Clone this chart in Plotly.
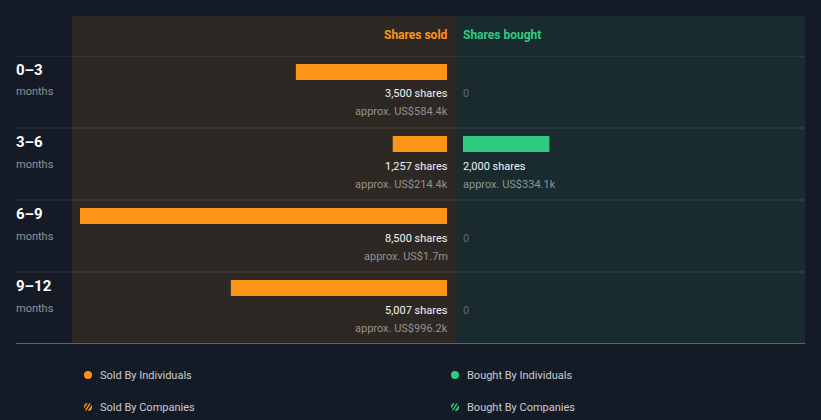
import plotly.graph_objects as go

# ---------------- data ----------------
periods = ["0–3", "3–6", "6–9", "9–12"]
period_unit = ["months", "months", "months", "months"]
sold_shares = [3500, 1257, 8500, 5007]
sold_value = ["US$584.4k", "US$214.4k", "US$1.7m", "US$996.2k"]
bought_shares = [0, 2000, 0, 0]
bought_value = ["", "US$334.1k", "", ""]
legend_labels = ["Sold By Individuals", "Bought By Individuals",
                 "Sold By Companies", "Bought By Companies"]

# ---------------- style ----------------
W, H = 821, 420
BG = "#151b26"
SOLD_BG = "#2d2823"
BOUGHT_BG = "#1a2b2f"
ORANGE = "#fd9418"
GREEN = "#2ecb80"
FONT = "Roboto"
RS = 3    # x shift for right-anchored text
LS = -2   # x shift for left-anchored text


def px(x):
    return x / W


def py(y):
    return 1 - y / H


rows = list(range(len(periods)))
smax = max(sold_shares + bought_shares)
sold_l, sold_r = 80, 447
buy_l, buy_r = 463, 805
scale = (sold_r - sold_l) / smax  # px per share

fig = go.Figure()
fig.add_trace(go.Bar(
    y=rows, x=sold_shares, orientation="h", xaxis="x", yaxis="y",
    marker=dict(color=ORANGE, line=dict(width=0)),
    width=16 / 72, offset=-0.5 + 8 / 72,
    showlegend=False, hoverinfo="skip"))
fig.add_trace(go.Bar(
    y=rows, x=bought_shares, orientation="h", xaxis="x2", yaxis="y",
    marker=dict(color=GREEN, line=dict(width=0)),
    width=16 / 72, offset=-0.5 + 8 / 72,
    showlegend=False, hoverinfo="skip"))

shapes = [
    dict(type="rect", xref="paper", yref="paper", x0=px(72), x1=px(455),
         y0=py(343), y1=py(16), fillcolor=SOLD_BG, line_width=0, layer="below"),
    dict(type="rect", xref="paper", yref="paper", x0=px(455), x1=px(805),
         y0=py(343), y1=py(16), fillcolor=BOUGHT_BG, line_width=0, layer="below"),
]
for i in rows:
    shapes.append(dict(type="line", xref="paper", yref="y", x0=px(16), x1=px(805),
                       y0=i - 0.5, y1=i - 0.5,
                       line=dict(color="rgba(255,255,255,0.13)", width=1), layer="below"))
shapes.append(dict(type="line", xref="paper", yref="y", x0=px(16), x1=px(805),
                   y0=len(rows) - 0.5, y1=len(rows) - 0.5,
                   line=dict(color="#a9adb1", width=1)))

annotations = [
    dict(text="<b>Shares sold</b>", xref="x", yref="paper", x=0, y=py(35), xshift=RS,
         xanchor="right", yanchor="middle", showarrow=False,
         font=dict(family=FONT, size=12, color=ORANGE)),
    dict(text="<b>Shares bought</b>", xref="x2", yref="paper", x=0, y=py(35), xshift=LS,
         xanchor="left", yanchor="middle", showarrow=False,
         font=dict(family=FONT, size=12, color=GREEN)),
]
for i in rows:
    annotations.append(dict(text="<b>%s</b>" % periods[i], xref="paper", yref="y",
                            x=px(16), y=i - 0.5 + 14 / 72, xanchor="left", yanchor="middle",
                            xshift=LS, showarrow=False,
                            font=dict(family=FONT, size=15, color="#ffffff")))
    annotations.append(dict(text=period_unit[i], xref="paper", yref="y",
                            x=px(16), y=i - 0.5 + 36 / 72, xanchor="left", yanchor="middle",
                            xshift=LS, showarrow=False,
                            font=dict(family=FONT, size=11, color="#8d9198")))
    # sold labels
    annotations.append(dict(text="{:,} shares".format(sold_shares[i]), xref="x", yref="y",
                            x=0, y=i - 0.5 + 38 / 72, xanchor="right", yanchor="middle",
                            xshift=RS, showarrow=False,
                            font=dict(family=FONT, size=11, color="#f4f4f4")))
    annotations.append(dict(text="approx. " + sold_value[i], xref="x", yref="y",
                            x=0, y=i - 0.5 + 56 / 72, xanchor="right", yanchor="middle",
                            xshift=RS, showarrow=False,
                            font=dict(family=FONT, size=11, color="#94928f")))
    # bought labels
    if bought_shares[i] > 0:
        annotations.append(dict(text="{:,} shares".format(bought_shares[i]), xref="x2", yref="y",
                                x=0, y=i - 0.5 + 38 / 72, xanchor="left", yanchor="middle",
                                xshift=LS, showarrow=False,
                                font=dict(family=FONT, size=11, color="#f4f4f4")))
        annotations.append(dict(text="approx. " + bought_value[i], xref="x2", yref="y",
                                x=0, y=i - 0.5 + 56 / 72, xanchor="left", yanchor="middle",
                                xshift=LS, showarrow=False,
                                font=dict(family=FONT, size=11, color="#8a9797")))
    else:
        annotations.append(dict(text="0", xref="x2", yref="y",
                                x=0, y=i - 0.5 + 38 / 72, xanchor="left", yanchor="middle",
                                xshift=LS, showarrow=False,
                                font=dict(family=FONT, size=11, color="#5f6e6e")))

# legend (custom, two columns)
leg_pos = [(88, 375, ORANGE, False), (455, 375, GREEN, False),
           (88, 407, ORANGE, True), (455, 407, GREEN, True)]
for (cx, cy, col, hatched), lab in zip(leg_pos, legend_labels):
    shapes.append(dict(type="circle", xref="paper", yref="paper",
                       x0=px(cx - 4), x1=px(cx + 4), y0=py(cy + 4), y1=py(cy - 4),
                       fillcolor=col, line_width=0))
    if hatched:
        for d in (-2, 1.5):
            shapes.append(dict(type="line", xref="paper", yref="paper",
                               x0=px(cx - 3 + d), x1=px(cx + 3 + d),
                               y0=py(cy + 4.5), y1=py(cy - 4.5),
                               line=dict(color=BG, width=1.4)))
    annotations.append(dict(text=lab, xref="paper", yref="paper", x=px(cx + 12), y=py(cy),
                            xanchor="left", yanchor="middle", xshift=LS, showarrow=False,
                            font=dict(family=FONT, size=11, color="#c9ccd1")))

fig.update_layout(
    width=W, height=H, margin=dict(l=0, r=0, t=0, b=0),
    paper_bgcolor=BG, plot_bgcolor="rgba(0,0,0,0)",
    barmode="overlay", showlegend=False,
    xaxis=dict(domain=[px(sold_l), px(sold_r)], range=[smax, 0], visible=False, fixedrange=True),
    xaxis2=dict(domain=[px(buy_l), px(buy_r)], range=[0, (buy_r - buy_l) / scale],
                visible=False, fixedrange=True, anchor="y"),
    yaxis=dict(domain=[py(56 + 72 * len(rows)), py(56)], range=[len(rows) - 0.5, -0.5],
               visible=False, fixedrange=True),
    shapes=shapes, annotations=annotations,
    font=dict(family=FONT),
)
fig.write_html("out.html", config={"displayModeBar": False})
